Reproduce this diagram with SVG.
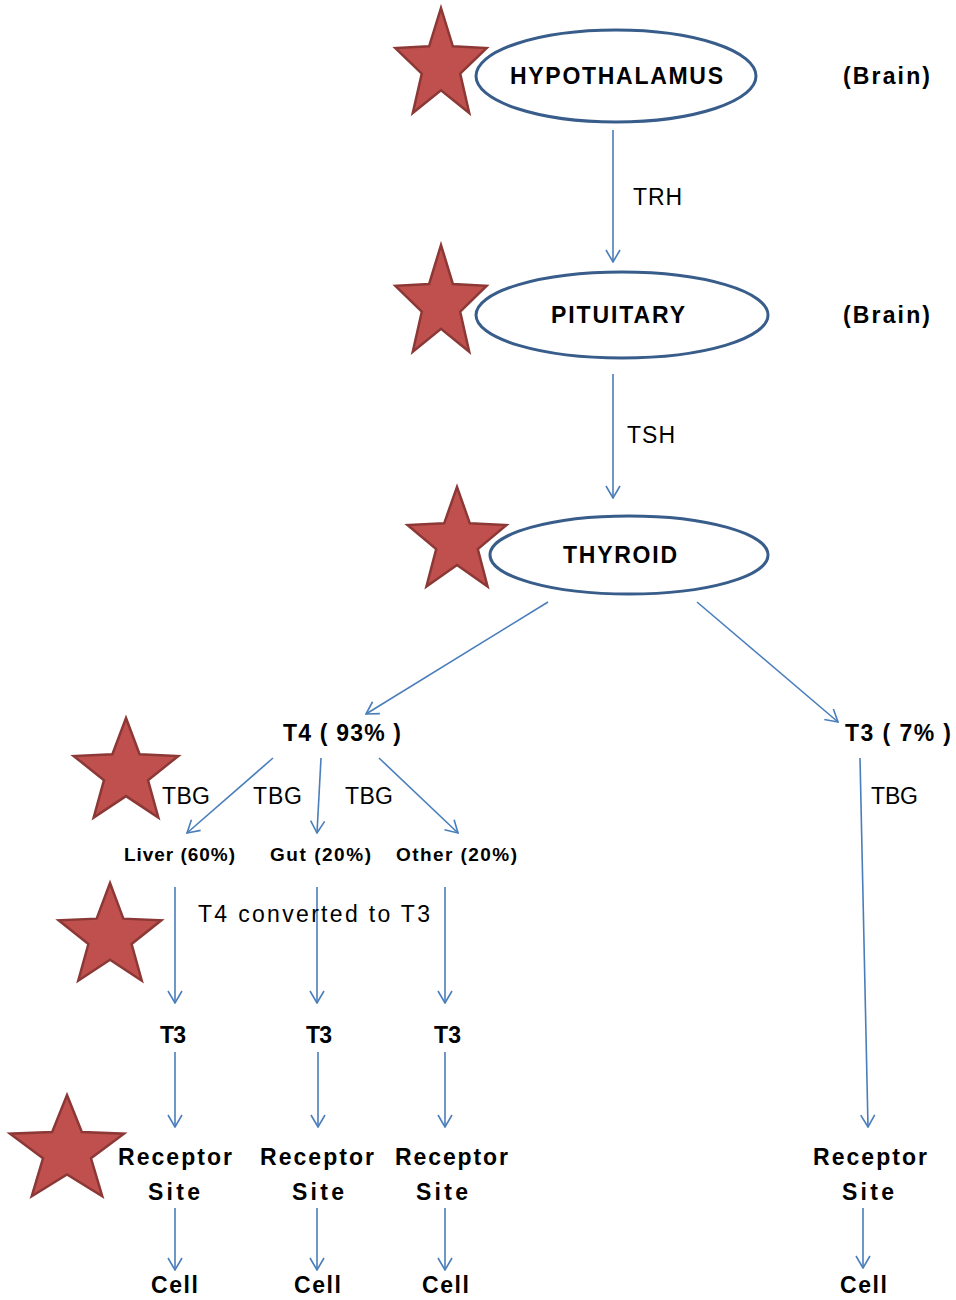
<svg xmlns="http://www.w3.org/2000/svg" xmlns:xlink="http://www.w3.org/1999/xlink" width="956" height="1300" viewBox="0 0 956 1300">
<style>
.node{fill:#fff;stroke:#385d8a;stroke-width:3}
.b{font-family:"Liberation Sans",Arial,sans-serif;font-weight:bold;font-size:23px;fill:#000}
.s{font-family:"Liberation Sans",Arial,sans-serif;font-weight:bold;font-size:19px;fill:#000}
.n{font-family:"Liberation Sans",Arial,sans-serif;font-size:23px;fill:#000}
.c{stroke:#4a7ebb;stroke-width:1.6;fill:none;marker-end:url(#ah)}
.star{fill:#c0504d;stroke:#8c3836;stroke-width:2.5}
</style>
<defs>
<marker id="ah" markerUnits="userSpaceOnUse" viewBox="0 0 14 16" refX="13" refY="8" markerWidth="14" markerHeight="16" orient="auto">
<path d="M1,1 L13,8 L1,15" fill="none" stroke="#4a7ebb" stroke-width="1.6"/>
</marker>
<polygon id="star" points="0,-1 0.247,-0.340 0.951,-0.309 0.400,0.130 0.588,0.809 0,0.420 -0.588,0.809 -0.400,0.130 -0.951,-0.309 -0.247,-0.340" vector-effect="non-scaling-stroke"/>
</defs>
<rect width="956" height="1300" fill="#fff"/>
<g id="stars" class="star">
<use href="#star" transform="translate(441,66) scale(48,58)"/>
<use href="#star" transform="translate(441,304) scale(48,59)"/>
<use href="#star" transform="translate(457,542) scale(52,55)"/>
<use href="#star" transform="translate(126,773) scale(55,55)"/>
<use href="#star" transform="translate(110,937) scale(54,54)"/>
<use href="#star" transform="translate(67,1151) scale(60,56)"/>
</g>
<g id="connectors">
<line class="c" x1="613" y1="130" x2="613" y2="262"/>
<line class="c" x1="613" y1="374" x2="613" y2="498"/>
<line class="c" x1="548" y1="602" x2="366" y2="714"/>
<line class="c" x1="697" y1="602" x2="838" y2="722"/>
<line class="c" x1="273" y1="758" x2="187" y2="833"/>
<line class="c" x1="321" y1="758" x2="317" y2="833"/>
<line class="c" x1="379" y1="758" x2="458" y2="833"/>
<line class="c" x1="860" y1="758" x2="868" y2="1127"/>
<line class="c" x1="175" y1="887" x2="175" y2="1003"/>
<line class="c" x1="317" y1="887" x2="317" y2="1003"/>
<line class="c" x1="445" y1="887" x2="445" y2="1003"/>
<line class="c" x1="175" y1="1052" x2="175" y2="1127"/>
<line class="c" x1="318" y1="1052" x2="318" y2="1127"/>
<line class="c" x1="445" y1="1052" x2="445" y2="1127"/>
<line class="c" x1="175" y1="1208" x2="175" y2="1270"/>
<line class="c" x1="317" y1="1208" x2="317" y2="1270"/>
<line class="c" x1="445" y1="1208" x2="445" y2="1270"/>
<line class="c" x1="863" y1="1208" x2="863" y2="1268"/>
<text class="n" x="633" y="205" textLength="49">TRH</text>
<text class="n" x="627" y="443" textLength="48">TSH</text>
<text class="n" x="162" y="804" textLength="48">TBG</text>
<text class="n" x="253" y="804" textLength="49">TBG</text>
<text class="n" x="345" y="804" textLength="48">TBG</text>
<text class="n" x="871" y="804" textLength="47">TBG</text>
<text class="n" x="198" y="922" textLength="232">T4 converted to T3</text>
</g>
<g id="hypothalamus">
<ellipse class="node" cx="616" cy="76" rx="140" ry="46"/>
<text class="b" x="510" y="84" textLength="213">HYPOTHALAMUS</text>
</g>
<g id="brain1"><text class="b" x="843" y="84" textLength="87">(Brain)</text></g>
<g id="pituitary">
<ellipse class="node" cx="622" cy="315" rx="146" ry="43"/>
<text class="b" x="551" y="323" textLength="134">PITUITARY</text>
</g>
<g id="brain2"><text class="b" x="843" y="323" textLength="87">(Brain)</text></g>
<g id="thyroid">
<ellipse class="node" cx="629" cy="555" rx="139" ry="39"/>
<text class="b" x="563" y="563" textLength="114">THYROID</text>
</g>
<g id="t4"><text class="b" x="283" y="741" textLength="118">T4 ( 93% )</text></g>
<g id="t3main"><text class="b" x="845" y="741" textLength="106">T3 ( 7% )</text></g>
<g id="liver"><text class="s" x="124" y="861" textLength="111">Liver (60%)</text></g>
<g id="gut"><text class="s" x="270" y="861" textLength="101">Gut (20%)</text></g>
<g id="other"><text class="s" x="396" y="861" textLength="121">Other (20%)</text></g>
<g id="t3a"><text class="b" x="160" y="1043" textLength="26">T3</text></g>
<g id="t3b"><text class="b" x="306" y="1043" textLength="26">T3</text></g>
<g id="t3c"><text class="b" x="434" y="1043" textLength="27">T3</text></g>
<g id="rs1"><text class="b" x="118" y="1165" textLength="114">Receptor</text><text class="b" x="148" y="1200" textLength="52">Site</text></g>
<g id="rs2"><text class="b" x="260" y="1165" textLength="114">Receptor</text><text class="b" x="292" y="1200" textLength="52">Site</text></g>
<g id="rs3"><text class="b" x="395" y="1165" textLength="113">Receptor</text><text class="b" x="416" y="1200" textLength="52">Site</text></g>
<g id="rs4"><text class="b" x="813" y="1165" textLength="114">Receptor</text><text class="b" x="842" y="1200" textLength="52">Site</text></g>
<g id="cell1"><text class="b" x="151" y="1293" textLength="47">Cell</text></g>
<g id="cell2"><text class="b" x="294" y="1293" textLength="47">Cell</text></g>
<g id="cell3"><text class="b" x="422" y="1293" textLength="47">Cell</text></g>
<g id="cell4"><text class="b" x="840" y="1293" textLength="47">Cell</text></g>
</svg>
